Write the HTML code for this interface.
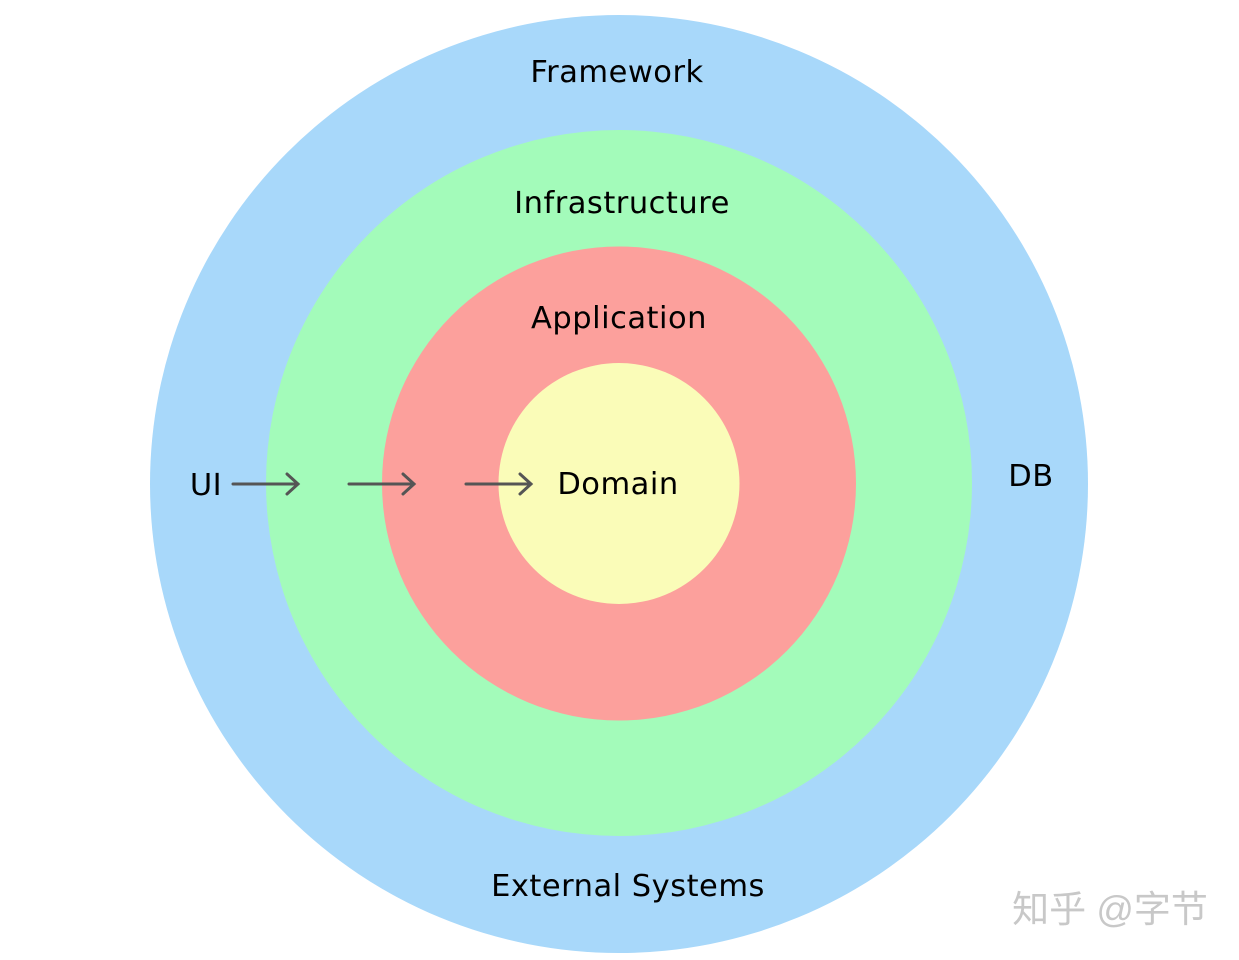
<!DOCTYPE html>
<html><head><meta charset="utf-8"><style>
html,body{margin:0;padding:0;background:#fff;width:1239px;height:960px;overflow:hidden}
</style></head><body>
<svg width="1239" height="960" viewBox="0 0 1239 960" xmlns="http://www.w3.org/2000/svg" font-family="DejaVu Sans, Liberation Sans, sans-serif">
<circle cx="619" cy="484" r="469" fill="#a8d8fa"/>
<circle cx="619" cy="483" r="353" fill="#a3fbba"/>
<circle cx="619" cy="483.5" r="237" fill="#fca09c"/>
<circle cx="619" cy="483.5" r="120.5" fill="#fafcb8"/>
<g font-size="30.5" fill="#000" text-anchor="middle" letter-spacing="0.5">
<text x="617" y="82">Framework</text>
<text x="622" y="213">Infrastructure</text>
<text x="619" y="328">Application</text>
<text x="618" y="494">Domain</text>
<text x="206" y="495">UI</text>
<text x="1031" y="486">DB</text>
<text x="628" y="896">External Systems</text>
</g>
<g stroke="#555" stroke-width="3" fill="none" stroke-linecap="round">
<path d="M233 484H298M287 474L298 484L287 494"/>
<path d="M349 484H414M403 474L414 484L403 494"/>
<path d="M466 484H531M520 474L531 484L520 494"/>
</g>
<text x="1110" y="922" font-size="37" fill="#c8c8c8" text-anchor="middle" font-family="Liberation Sans, Noto Sans CJK SC, sans-serif">知乎 @字节</text>
</svg>
</body></html>
